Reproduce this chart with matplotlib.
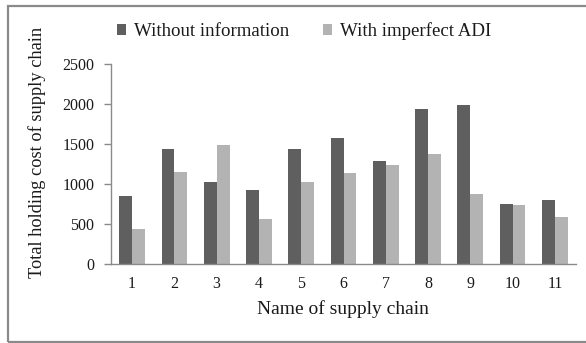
import matplotlib
matplotlib.use("Agg")
import matplotlib.pyplot as plt
from matplotlib.patches import Rectangle
import numpy as np

chains = ["1", "2", "3", "4", "5", "6", "7", "8", "9", "10", "11"]
without_info = [850, 1440, 1030, 930, 1440, 1580, 1290, 1940, 1990, 750, 800]
imperfect_adi = [440, 1150, 1490, 560, 1030, 1140, 1240, 1380, 870, 740, 590]
y_ticks = [0, 500, 1000, 1500, 2000, 2500]

plt.rcParams["font.family"] = ["Liberation Serif", "DejaVu Serif"]

W, H = 586, 343
fig = plt.figure(figsize=(W / 100, H / 100), dpi=100)
fig.patch.set_facecolor("white")

# outer frame
fig.patches.append(Rectangle((8 / W, 1 - 341.5 / H), (W + 5 - 8) / W, (341.5 - 5.5) / H,
                             transform=fig.transFigure, fill=False,
                             edgecolor="#8a8a8a", linewidth=1.6))

ax = fig.add_axes([111 / W, 1 - 264 / H, (576 - 111) / W, (264 - 64) / H])

x = np.arange(len(chains))
w = 0.305
dark = "#5f5f5f"
light = "#b3b3b3"
b1 = ax.bar(x - w / 2, without_info, w, color=dark, label="Without information", linewidth=0)
b2 = ax.bar(x + w / 2, imperfect_adi, w, color=light, label="With imperfect ADI", linewidth=0)

ax.set_xlim(-0.5, len(chains) - 0.5)
ax.set_ylim(0, 2500)
ax.set_yticks(y_ticks)
ax.set_xticks(x)
ax.set_xticklabels(chains)

for s in ["top", "right"]:
    ax.spines[s].set_visible(False)
for s in ["left", "bottom"]:
    ax.spines[s].set_color("#8a8a8a")
    ax.spines[s].set_linewidth(1.0)

ax.tick_params(axis="y", length=5, width=1.0, color="#8a8a8a", pad=7, labelsize=11.5, labelcolor="#1a1a1a")
ax.tick_params(axis="x", length=0, pad=9, labelsize=11.5, labelcolor="#1a1a1a")

fig.text(37 / W, 1 - 152 / H, "Total holding cost of supply chain", rotation=90,
         ha="center", va="center", fontsize=13.2, color="#1a1a1a")
fig.text(343 / W, 1 - 309 / H, "Name of supply chain",
         ha="center", va="center", fontsize=14, color="#1a1a1a")

fig.legend(handles=[b1, b2], loc="center left", bbox_to_anchor=(117 / W, 1 - 31.5 / H),
           ncol=2, frameon=False, fontsize=13.6, handlelength=0.5, handleheight=0.5,
           handletextpad=0.42, columnspacing=1.75, borderpad=0, borderaxespad=0,
           labelcolor="#1a1a1a")

fig.savefig("out.png", dpi=100)
